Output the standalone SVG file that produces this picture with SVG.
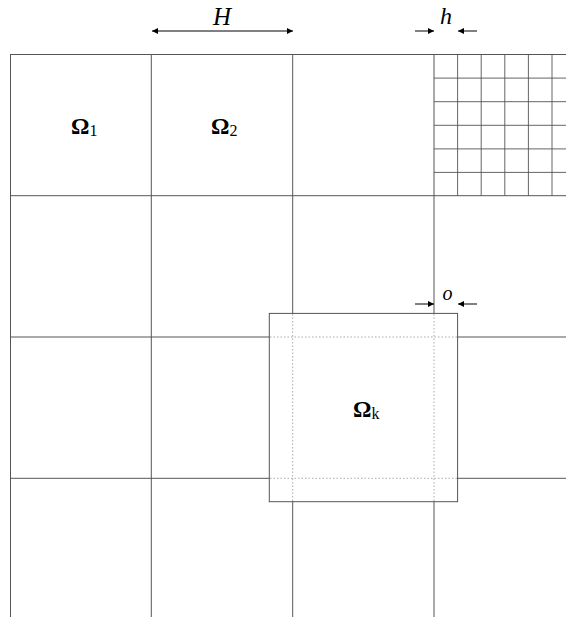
<svg xmlns="http://www.w3.org/2000/svg" width="566" height="617" viewBox="0 0 566 617">
<style>
.g{stroke:#555;stroke-width:1;fill:none}
.f{stroke:#555;stroke-width:0.9;fill:none}
.d{stroke:#aaa;stroke-width:1;stroke-dasharray:1.5,2;fill:none}
.a{stroke:#000;stroke-width:1;fill:none}
.lbl{font-family:"Liberation Serif",serif;fill:#000}
.om{font-weight:bold}
.sub{font-weight:normal}
.it{font-style:italic}
</style>
<defs>
<marker id="ah" viewBox="0 0 10 10" refX="10" refY="5" markerWidth="7" markerHeight="6" orient="auto-start-reverse" markerUnits="userSpaceOnUse">
<path d="M0,0 L10,5 L0,10 z" fill="#000"/>
</marker>
</defs>
<rect width="566" height="617" fill="#fff"/>
<g id="grid">
<path class="g" d="M10,54.5 H566 M10,195.7 H566 M10,337 H566 M10,478.3 H566"/>
<path class="g" d="M10.5,54.5 V617 M151.3,54.5 V617 M292.7,54.5 V617 M434,54.5 V617"/>
</g>
<g id="fine-grid">
<path class="f" d="M457.6,54.5 V195.7 M481.2,54.5 V195.7 M504.8,54.5 V195.7 M528.4,54.5 V195.7 M552,54.5 V195.7"/>
<path class="f" d="M434,78.1 H566 M434,101.7 H566 M434,125.3 H566 M434,148.9 H566 M434,172.4 H566"/>
</g>
<g id="omega1"><text class="lbl om" x="71" y="134" font-size="23">Ω<tspan class="sub" font-size="16" dy="2">1</tspan></text></g>
<g id="omega2"><text class="lbl om" x="211" y="133.5" font-size="23">Ω<tspan class="sub" font-size="16" dy="2">2</tspan></text></g>
<g id="omegak">
<rect x="269.3" y="313.4" width="188.3" height="188.3" fill="#fff" stroke="#555" stroke-width="1"/>
<path class="d" d="M292.7,314 V501 M434,314 V501 M270,337 H457 M270,478.3 H457"/>
<text class="lbl om" x="353" y="417" font-size="23">Ω<tspan class="sub" font-size="16" dy="2">k</tspan></text>
</g>
<g id="connectors">
<line class="a" x1="152" y1="31" x2="293" y2="31" marker-start="url(#ah)" marker-end="url(#ah)"/>
<line class="a" x1="415" y1="31" x2="434" y2="31" marker-end="url(#ah)"/>
<line class="a" x1="477" y1="31" x2="458" y2="31" marker-end="url(#ah)"/>
<line class="a" x1="415" y1="304" x2="434" y2="304" marker-end="url(#ah)"/>
<line class="a" x1="477" y1="304" x2="458" y2="304" marker-end="url(#ah)"/>
</g>
<g id="labels">
<text class="lbl it" x="222" y="24.5" font-size="25" text-anchor="middle">H</text>
<text class="lbl it" x="446" y="24" font-size="24" text-anchor="middle">h</text>
<text class="lbl it" x="447.5" y="299.5" font-size="20" text-anchor="middle">o</text>
</g>
</svg>
